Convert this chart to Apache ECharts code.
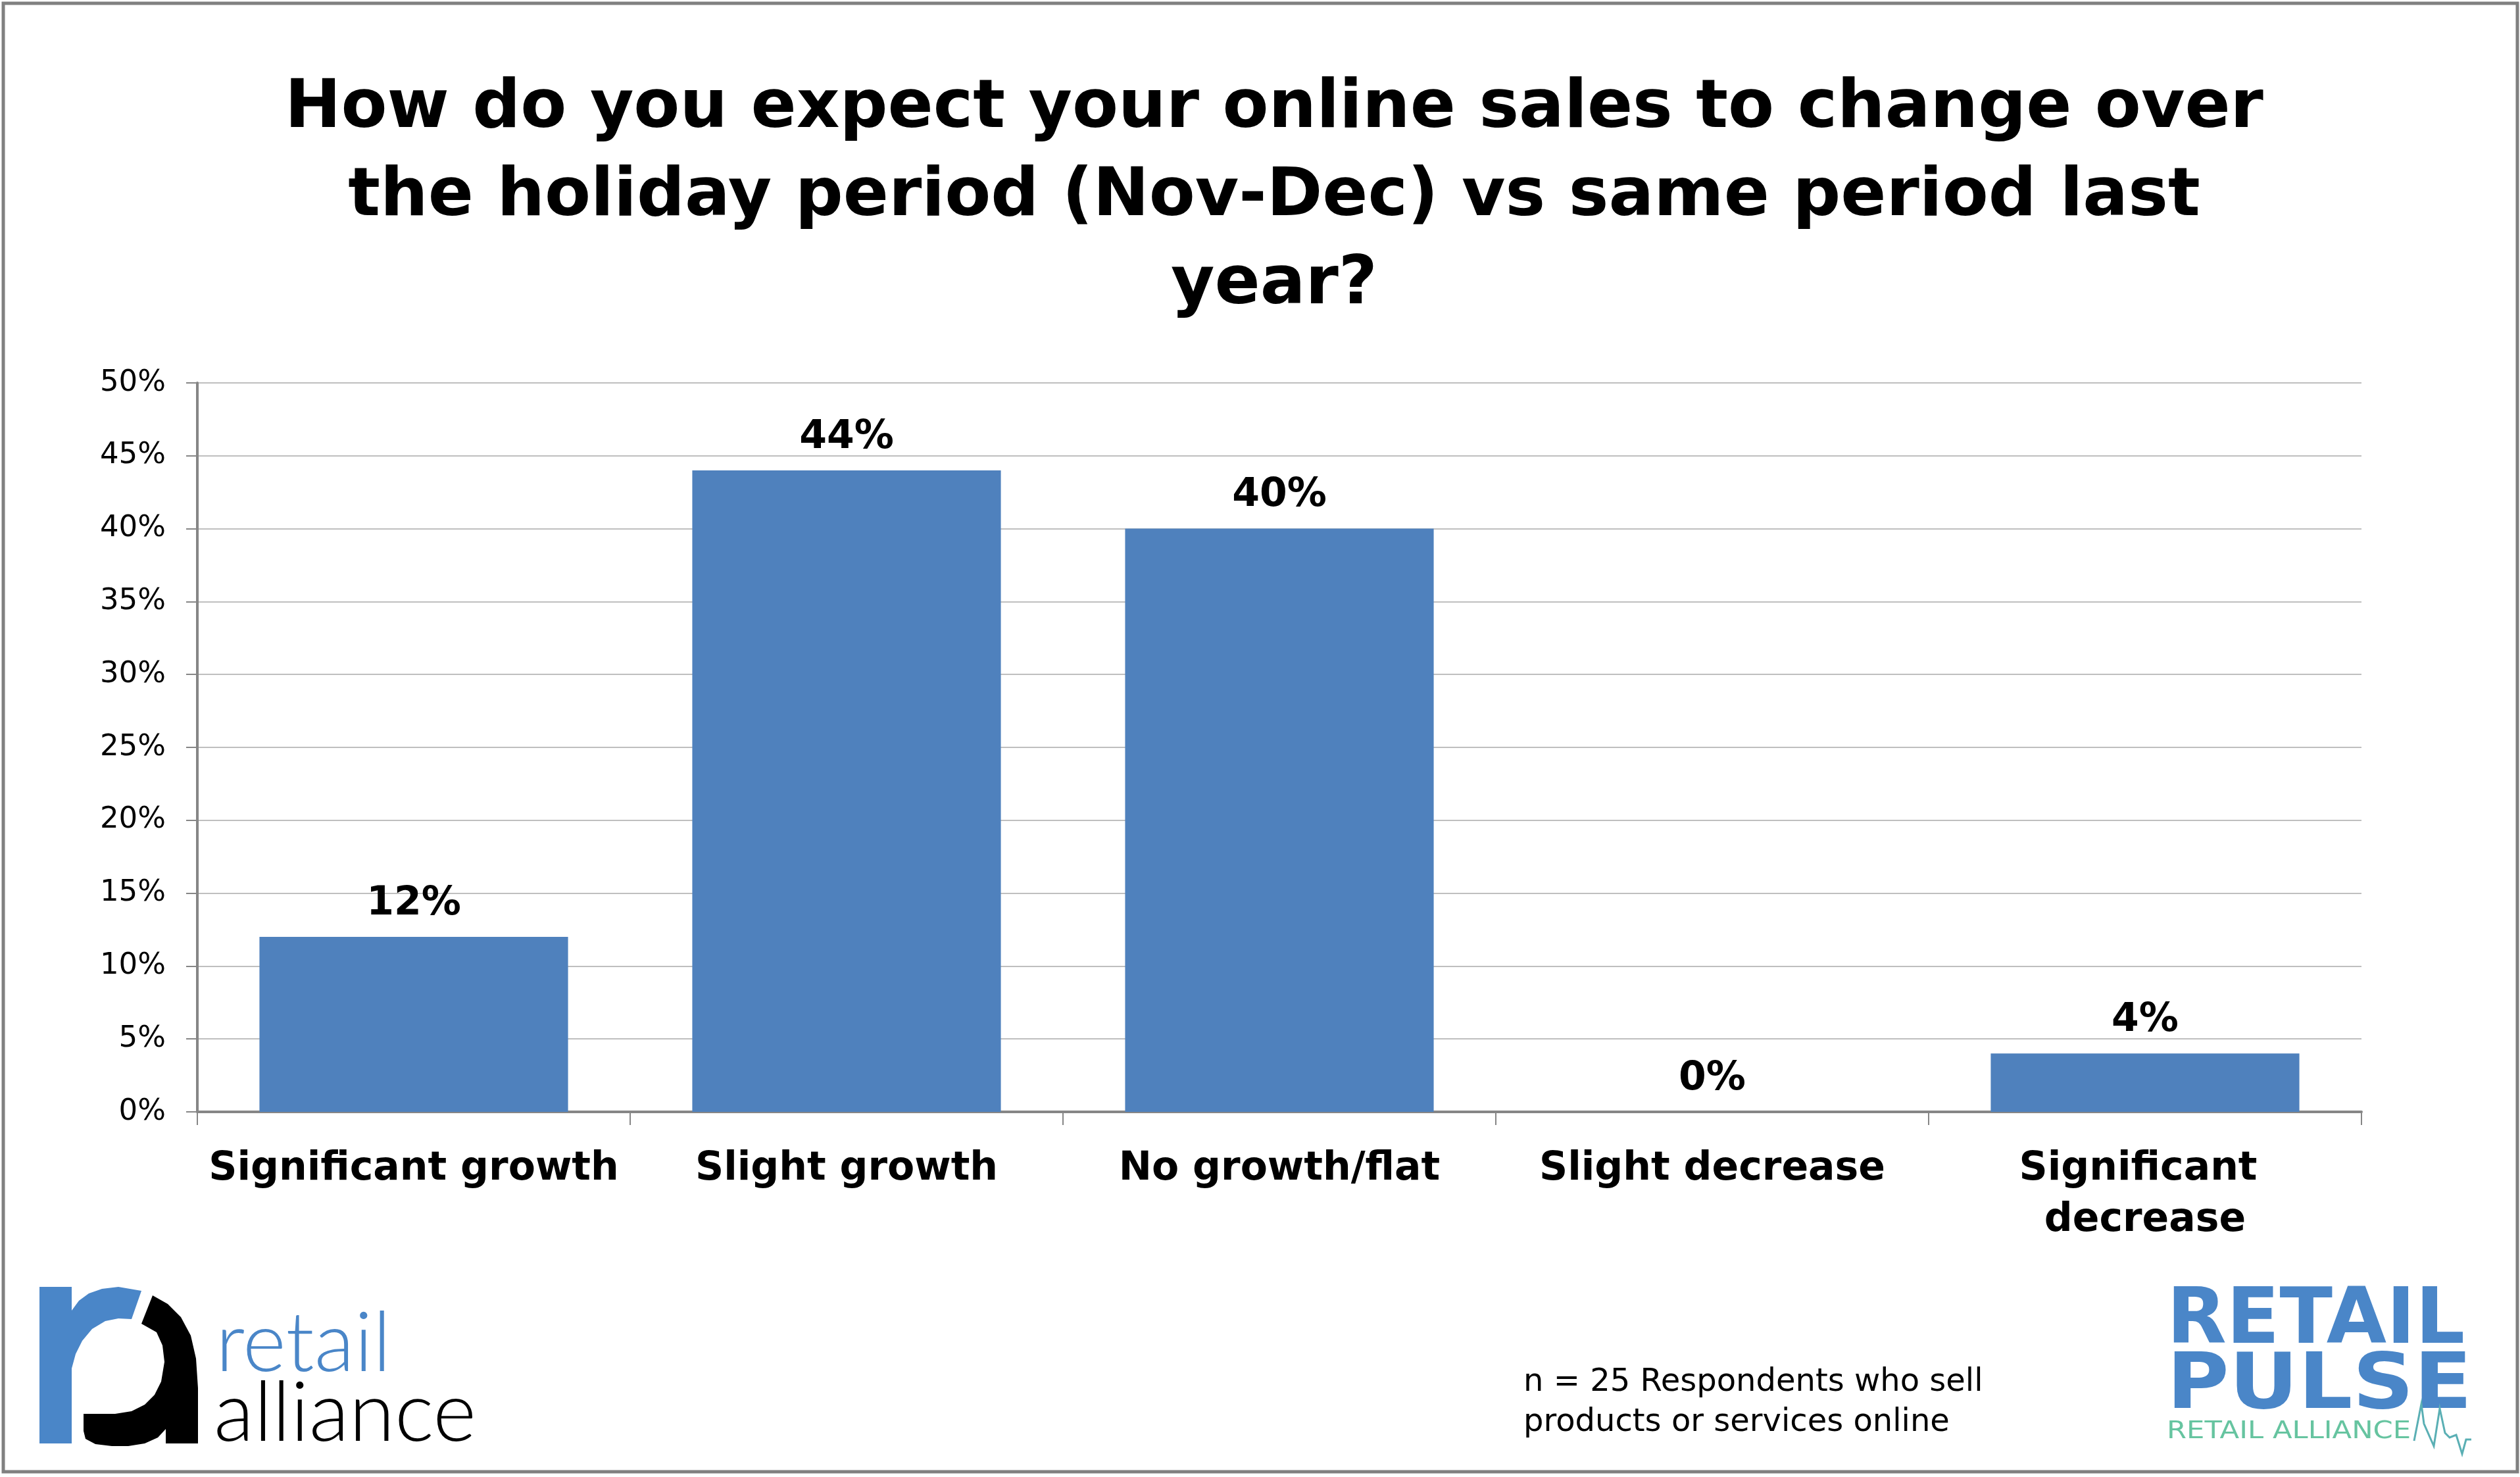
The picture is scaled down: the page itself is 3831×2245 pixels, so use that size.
<!DOCTYPE html>
<html>
<head>
<meta charset="utf-8">
<script src="https://cdn.jsdelivr.net/npm/echarts@6/dist/echarts.min.js"></script>
<style>
html,body{margin:0;padding:0;background:#fff;}
#chart{width:3831px;height:2245px;}
</style>
</head>
<body>
<div id="chart"></div>
<script>
var categories = ['Significant growth', 'Slight growth', 'No growth/flat', 'Slight decrease', 'Significant decrease'];
var values = [12, 44, 40, 0, 4];
var yTicks = { min: 0, max: 50, interval: 5 };
var titleText = 'How do you expect your online sales to change over\nthe holiday period (Nov-Dec) vs same period last\nyear?';
var noteText = 'n = 25 Respondents who sell\nproducts or services online';

var chart = echarts.init(document.getElementById('chart'));
var FB = '"DejaVu Sans", "Liberation Sans", sans-serif';

function txt(o) {
  return { type: 'text', silent: true, x: o.x, y: o.y, scaleX: o.scaleX || 1, originX: 0, originY: 0,
    style: { text: o.text, font: o.font, fill: o.fill || '#000', textAlign: o.align || 'left', align: o.align || 'left',
      textVerticalAlign: o.va || 'middle', verticalAlign: o.va || 'middle', lineHeight: o.lh } };
}

var option = {
  backgroundColor: '#ffffff',
  animation: false,
  grid: { left: 300, right: 241, top: 582, bottom: 555, containLabel: false },
  xAxis: {
    type: 'category',
    data: categories,
    axisLine: { show: true, lineStyle: { color: '#868686', width: 4 } },
    axisTick: { show: true, alignWithLabel: false, length: 20, lineStyle: { color: '#868686', width: 2 } },
    axisLabel: { interval: 0, margin: 48, color: '#000', fontFamily: FB, fontWeight: 'bold', fontSize: 60,
      lineHeight: 78, width: 640, overflow: 'break', align: 'center' }
  },
  yAxis: {
    type: 'value',
    min: yTicks.min, max: yTicks.max, interval: yTicks.interval,
    axisLine: { show: true, lineStyle: { color: '#868686', width: 4 } },
    axisTick: { show: true, inside: false, length: 17, lineStyle: { color: '#868686', width: 2 } },
    axisLabel: { formatter: '{value}%', margin: 48, color: '#000', fontFamily: FB, fontSize: 45 },
    splitLine: { show: true, lineStyle: { color: '#BFBFBF', width: 2 } }
  },
  series: [{
    type: 'bar',
    data: values,
    barCategoryGap: '28.7%',
    itemStyle: { color: '#4F81BD' },
    label: { show: true, position: 'top', distance: 20, formatter: '{c}%', color: '#000',
      fontFamily: FB, fontWeight: 'bold', fontSize: 60 }
  }],
  graphic: [
    { type: 'rect', silent: true, shape: { x: 5, y: 5, width: 3822, height: 2232 },
      style: { fill: 'none', stroke: '#808080', lineWidth: 5 } },
    txt({ x: 1937, y: 99, text: titleText, font: 'bold 102px ' + FB, align: 'center', va: 'top', lh: 134 }),
    txt({ x: 2316, y: 2071, text: noteText, font: '48px ' + FB, align: 'left', va: 'top', lh: 61 }),
    // retail alliance logo
    { type: 'rect', silent: true, shape: { x: 60, y: 1956, width: 49, height: 238 }, style: { fill: '#4A86C8' } },
    { type: 'polygon', silent: true,
      shape: { points: [[109,1992],[120,1977],[135,1966],[155,1959],[180,1956],[215,1962],[200,2005],[180,2004],[160,2008],[140,2020],[125,2038],[115,2058],[109,2080]] },
      style: { fill: '#4A86C8' } },
    { type: 'polygon', silent: true,
      shape: { points: [[232,1969],[255,1982],[275,2002],[290,2030],[298,2065],[301,2110],[301,2194],[252,2194],[252,2172],[240,2185],[220,2194],[195,2198],[170,2198],[145,2195],[130,2187],[127,2175],[127,2149],[175,2149],[200,2145],[220,2135],[235,2120],[245,2100],[250,2070],[247,2045],[238,2025],[215,2012]] },
      style: { fill: '#000' } },
    txt({ x: 328, y: 2043, text: 'retail', font: '300 126px Lato, "Open Sans", sans-serif', fill: '#4A86C8' }),
    txt({ x: 325, y: 2149, text: 'alliance', font: '300 126px Lato, "Open Sans", sans-serif', fill: '#000' }),
    // retail pulse logo
    txt({ x: 3294, y: 2010, text: 'RETAIL', font: 'bold 118px ' + FB, fill: '#4A86C8' }),
    txt({ x: 3294, y: 2109, text: 'PULSE', font: 'bold 118px ' + FB, fill: '#4A86C8', scaleX: 1.097 }),
    txt({ x: 3294, y: 2176, text: 'RETAIL ALLIANCE', font: '38px ' + FB, fill: '#66C4A0', scaleX: 1.14 }),
    { type: 'polyline', silent: true,
      shape: { points: [[3670,2190],[3681,2134],[3685,2164],[3700,2198],[3709,2141],[3717,2178],[3724,2185],[3734,2181],[3743,2210],[3749,2188],[3757,2188]] },
      style: { fill: 'none', stroke: '#5AAFB4', lineWidth: 3 } }
  ]
};
chart.setOption(option);
</script>
</body>
</html>
